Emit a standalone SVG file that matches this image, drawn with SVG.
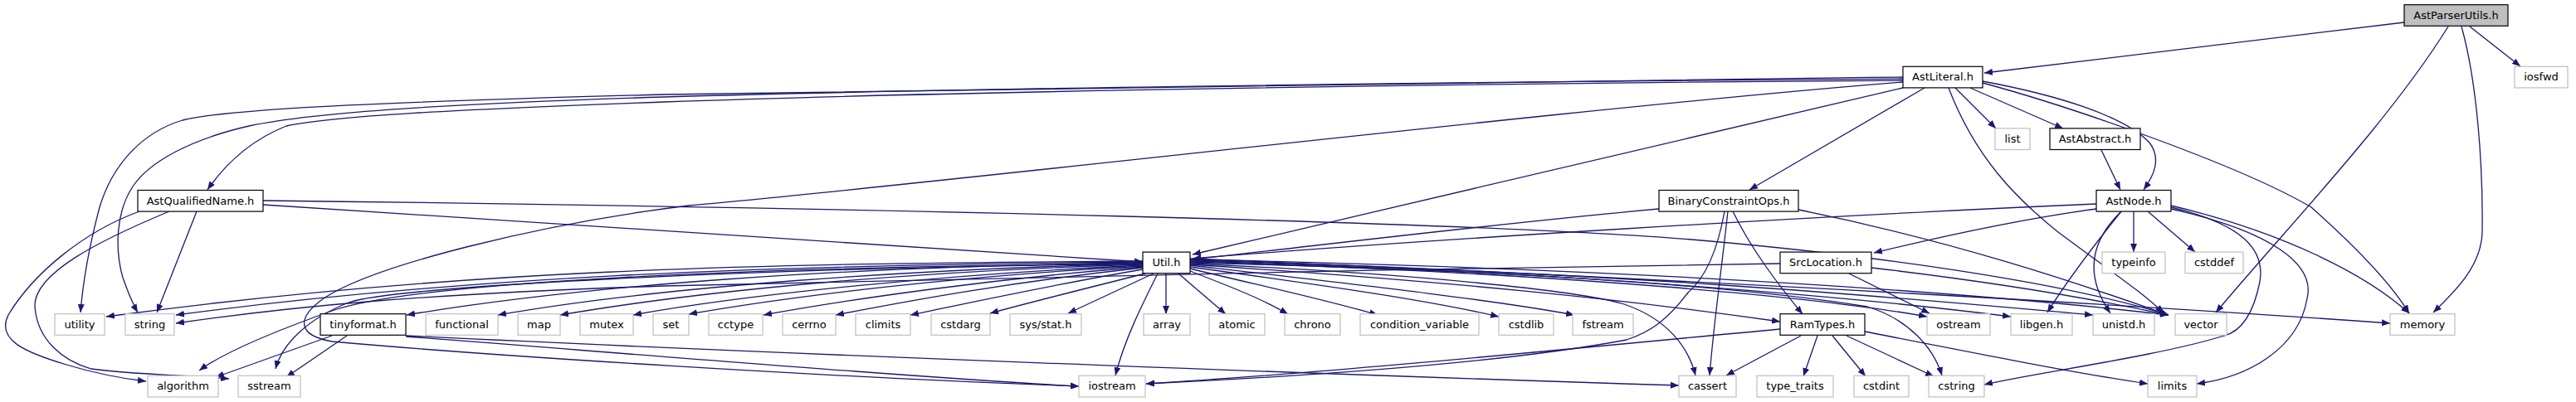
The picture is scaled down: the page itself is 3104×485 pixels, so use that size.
<svg xmlns="http://www.w3.org/2000/svg" width="3104" height="485" viewBox="0 0 3104 485">
<style>
.n rect{fill:#fff;stroke:#000;stroke-width:1.2}
.x rect{fill:#fff;stroke:#bfbfbf;stroke-width:1.2}
.r rect{fill:#bfbfbf;stroke:#000;stroke-width:1.2}
text{font-family:"DejaVu Sans","Liberation Sans",sans-serif;font-size:13px;fill:#000;text-anchor:middle}
#edges path{fill:none;stroke:#191970;stroke-width:1.3;marker-end:url(#a)}
</style>
<defs>
<marker id="a" markerWidth="10" markerHeight="8" refX="10" refY="4" orient="auto" markerUnits="userSpaceOnUse"><path d="M0,0L10,4L0,8z" fill="#191970" stroke="none"/></marker>
</defs>
<rect width="3104" height="485" fill="#fff"/>
<g id="edges">
<!-- AstParserUtils.h -->
<path d="M2897,27 L2391,88"/>
<path d="M2950,32 C2880,145 2760,270 2670,377"/>
<path d="M2966,32 C2985,100 2992,200 2991,280 C2990,320 2960,350 2932,377"/>
<path d="M2976,32 L3037,80"/>
<!-- AstLiteral.h -->
<path d="M2356,106 L2405,155"/>
<path d="M2374,106 L2486,155"/>
<path d="M2389,98 C2480,115 2560,140 2590,172 C2605,192 2595,212 2583,229"/>
<path d="M2389,100 C2500,130 2700,200 2785,250 C2830,290 2880,340 2903,378"/>
<path d="M2348,106 C2380,190 2430,240 2480,280 C2540,325 2585,355 2607,378"/>
<path d="M2319,106 L2108,229"/>
<path d="M2293,106 L1437,307"/>
<path d="M2293,97 C1700,101 1100,112 800,123 C550,132 400,140 345,152 C300,170 270,200 250,229"/>
<path d="M2293,93 C1700,97 1100,106 800,114 C500,122 280,130 220,145 C170,160 135,200 120,250 C108,295 100,340 97,377"/>
<path d="M2293,95 C1700,99 1100,108 800,117 C550,125 380,135 300,152 C230,168 180,195 160,225 C140,255 138,300 148,335 C155,355 162,370 166,377"/>
<path d="M2293,99 C1900,130 1100,225 830,248 C650,270 450,320 390,360 C355,385 360,405 400,412 C600,430 1000,455 1300,466"/>
<!-- AstQualifiedName.h -->
<path d="M317,247 L1377,316"/>
<path d="M317,242 C1000,250 1800,268 2050,290 C2300,312 2500,345 2613,380"/>
<path d="M237,255 L189,377"/>
<path d="M168,255 C100,280 40,330 10,380 C-5,410 30,425 80,440 C120,452 150,457 176,460"/>
<path d="M204,255 C120,290 40,330 42,370 C45,410 75,435 110,445 C160,452 220,452 276,457"/>
<!-- Util.h -->
<path d="M1377,315 C900,318 550,325 128,382"/>
<path d="M1377,316 C900,320 550,335 212,380"/>
<path d="M1377,317 C1000,322 700,345 490,380"/>
<path d="M1377,318 C1100,325 800,345 600,380"/>
<path d="M1377,319 C1100,327 850,350 675,380"/>
<path d="M1377,320 C1150,330 900,355 763,380"/>
<path d="M1377,321 C1150,333 950,358 830,379"/>
<path d="M1377,322 C1200,336 1030,360 920,380"/>
<path d="M1377,323 C1220,340 1100,362 1007,380"/>
<path d="M1377,325 C1260,345 1170,365 1097,380"/>
<path d="M1380,330 C1300,350 1240,365 1193,378"/>
<path d="M1390,330 L1287,378"/>
<path d="M1377,318 C900,322 500,340 400,375 C330,400 270,425 240,447"/>
<path d="M1377,318 C900,324 480,345 420,365 C370,385 340,415 332,445"/>
<path d="M1395,330 C1375,370 1355,410 1344,453"/>
<path d="M1405,330 L1405,379"/>
<path d="M1420,330 L1477,379"/>
<path d="M1434,327 C1480,345 1520,360 1552,379"/>
<path d="M1434,324 C1520,345 1600,362 1660,380"/>
<path d="M1434,322 C1600,345 1720,362 1806,382"/>
<path d="M1434,320 C1650,345 1800,362 1897,380"/>
<path d="M1434,319 C1750,340 1950,360 2145,388"/>
<path d="M1434,318 C1700,330 1900,350 1957,367 C2010,385 2035,420 2043,453"/>
<path d="M1434,317 C1800,325 2100,345 2250,370 C2300,385 2330,420 2340,453"/>
<path d="M1434,316 C1900,330 2200,360 2322,382"/>
<path d="M1434,315 C1900,328 2250,360 2423,382"/>
<path d="M1434,314 C2000,330 2350,365 2522,380"/>
<path d="M1434,313 C2000,325 2400,355 2613,380"/>
<path d="M1434,312 C2100,340 2600,370 2880,390"/>
<!-- BinaryConstraintOps.h -->
<path d="M1999,252 C1800,270 1600,295 1437,313"/>
<path d="M2088,255 C2110,300 2140,340 2172,379"/>
<path d="M2082,255 C2075,320 2065,390 2060,453"/>
<path d="M2078,255 C2070,300 2055,335 2034,353 C2010,385 1990,400 1960,410 C1800,440 1550,455 1381,463"/>
<path d="M2167,253 C2350,290 2500,340 2613,380"/>
<!-- SrcLocation.h -->
<path d="M2145,318 C1700,325 1100,335 800,345 C500,355 350,370 212,390"/>
<path d="M2228,330 L2325,378"/>
<path d="M2255,323 C2400,340 2520,360 2613,380"/>
<!-- AstNode.h -->
<path d="M2526,246 C2200,260 1700,290 1437,312"/>
<path d="M2526,252 C2430,265 2320,290 2258,305"/>
<path d="M2556,255 C2520,300 2490,340 2467,377"/>
<path d="M2556,255 C2520,290 2510,330 2543,378"/>
<path d="M2571,255 L2571,304"/>
<path d="M2588,255 L2645,304"/>
<path d="M2616,250 C2700,270 2730,300 2723,340 C2715,380 2700,400 2680,405 C2600,430 2450,450 2391,464"/>
<path d="M2616,252 C2740,280 2790,320 2780,360 C2770,420 2710,455 2647,463"/>
<path d="M2616,248 C2750,280 2850,330 2903,378"/>
<!-- AstAbstract.h -->
<path d="M2532,181 L2555,229"/>
<!-- RamTypes.h -->
<path d="M2170,405 L2080,453"/>
<path d="M2190,405 L2173,454"/>
<path d="M2208,405 L2248,454"/>
<path d="M2225,405 L2330,454"/>
<path d="M2247,400 C2400,430 2500,450 2588,463"/>
<path d="M2145,397 C1900,420 1600,450 1381,463"/>
<!-- tinyformat.h -->
<path d="M400,405 L260,455"/>
<path d="M418,405 L345,455"/>
<path d="M489,405 C1000,430 1700,455 2023,465"/>
<path d="M489,406 C800,430 1100,455 1300,466"/>
</g>
<g id="n_AstParserUtils" class="r"><rect x="2897" y="5.7" width="125" height="25.6"/><text x="2959.5" y="22.7">AstParserUtils.h</text></g>
<g id="n_AstLiteral" class="n"><rect x="2293" y="80.3" width="96" height="25.6"/><text x="2341" y="97.3">AstLiteral.h</text></g>
<g id="n_iosfwd" class="x"><rect x="3030" y="80.3" width="64" height="25.6"/><text x="3062" y="97.3">iosfwd</text></g>
<g id="n_list" class="x"><rect x="2404" y="154.9" width="42" height="25.6"/><text x="2425" y="171.9">list</text></g>
<g id="n_AstAbstract" class="n"><rect x="2470" y="154.9" width="109" height="25.6"/><text x="2524.5" y="171.9">AstAbstract.h</text></g>
<g id="n_AstQualifiedName" class="n"><rect x="166" y="229.5" width="151" height="25.6"/><text x="241.5" y="246.5">AstQualifiedName.h</text></g>
<g id="n_BinaryConstraintOps" class="n"><rect x="1999" y="229.5" width="168" height="25.6"/><text x="2083" y="246.5">BinaryConstraintOps.h</text></g>
<g id="n_AstNode" class="n"><rect x="2526" y="229.5" width="90" height="25.6"/><text x="2571" y="246.5">AstNode.h</text></g>
<g id="n_Util" class="n"><rect x="1377" y="304.1" width="57" height="25.6"/><text x="1405.5" y="321.1">Util.h</text></g>
<g id="n_SrcLocation" class="n"><rect x="2145" y="304.1" width="110" height="25.6"/><text x="2200" y="321.1">SrcLocation.h</text></g>
<g id="n_typeinfo" class="x"><rect x="2533" y="304.1" width="76" height="25.6"/><text x="2571" y="321.1">typeinfo</text></g>
<g id="n_cstddef" class="x"><rect x="2633" y="304.1" width="70" height="25.6"/><text x="2668" y="321.1">cstddef</text></g>
<g id="n_utility" class="x"><rect x="66" y="378.7" width="60" height="25.6"/><text x="96" y="395.7">utility</text></g>
<g id="n_string" class="x"><rect x="151" y="378.7" width="59" height="25.6"/><text x="180.5" y="395.7">string</text></g>
<g id="n_tinyformat" class="n"><rect x="386" y="378.7" width="103" height="25.6"/><text x="437.5" y="395.7">tinyformat.h</text></g>
<g id="n_functional" class="x"><rect x="513" y="378.7" width="87" height="25.6"/><text x="556.5" y="395.7">functional</text></g>
<g id="n_map" class="x"><rect x="624" y="378.7" width="51" height="25.6"/><text x="649.5" y="395.7">map</text></g>
<g id="n_mutex" class="x"><rect x="699" y="378.7" width="64" height="25.6"/><text x="731" y="395.7">mutex</text></g>
<g id="n_set" class="x"><rect x="787" y="378.7" width="43" height="25.6"/><text x="808.5" y="395.7">set</text></g>
<g id="n_cctype" class="x"><rect x="854" y="378.7" width="65" height="25.6"/><text x="886.5" y="395.7">cctype</text></g>
<g id="n_cerrno" class="x"><rect x="943" y="378.7" width="64" height="25.6"/><text x="975" y="395.7">cerrno</text></g>
<g id="n_climits" class="x"><rect x="1031" y="378.7" width="66" height="25.6"/><text x="1064" y="395.7">climits</text></g>
<g id="n_cstdarg" class="x"><rect x="1122" y="378.7" width="71" height="25.6"/><text x="1157.5" y="395.7">cstdarg</text></g>
<g id="n_sysstat" class="x"><rect x="1217" y="378.7" width="86" height="25.6"/><text x="1260" y="395.7">sys/stat.h</text></g>
<g id="n_array" class="x"><rect x="1378" y="378.7" width="56" height="25.6"/><text x="1406" y="395.7">array</text></g>
<g id="n_atomic" class="x"><rect x="1457" y="378.7" width="67" height="25.6"/><text x="1490.5" y="395.7">atomic</text></g>
<g id="n_chrono" class="x"><rect x="1548" y="378.7" width="67" height="25.6"/><text x="1581.5" y="395.7">chrono</text></g>
<g id="n_condition_variable" class="x"><rect x="1639" y="378.7" width="143" height="25.6"/><text x="1710.5" y="395.7">condition_variable</text></g>
<g id="n_cstdlib" class="x"><rect x="1806" y="378.7" width="66" height="25.6"/><text x="1839" y="395.7">cstdlib</text></g>
<g id="n_fstream" class="x"><rect x="1895" y="378.7" width="73" height="25.6"/><text x="1931.5" y="395.7">fstream</text></g>
<g id="n_RamTypes" class="n"><rect x="2145" y="378.7" width="102" height="25.6"/><text x="2196" y="395.7">RamTypes.h</text></g>
<g id="n_ostream" class="x"><rect x="2322" y="378.7" width="76" height="25.6"/><text x="2360" y="395.7">ostream</text></g>
<g id="n_libgen" class="x"><rect x="2423" y="378.7" width="74" height="25.6"/><text x="2460" y="395.7">libgen.h</text></g>
<g id="n_unistd" class="x"><rect x="2522" y="378.7" width="74" height="25.6"/><text x="2559" y="395.7">unistd.h</text></g>
<g id="n_vector" class="x"><rect x="2621" y="378.7" width="62" height="25.6"/><text x="2652" y="395.7">vector</text></g>
<g id="n_memory" class="x"><rect x="2880" y="378.7" width="78" height="25.6"/><text x="2919" y="395.7">memory</text></g>
<g id="n_algorithm" class="x"><rect x="178" y="453.3" width="85" height="25.6"/><text x="220.5" y="470.3">algorithm</text></g>
<g id="n_sstream" class="x"><rect x="287" y="453.3" width="75" height="25.6"/><text x="324.5" y="470.3">sstream</text></g>
<g id="n_iostream" class="x"><rect x="1300" y="453.3" width="80" height="25.6"/><text x="1340" y="470.3">iostream</text></g>
<g id="n_cassert" class="x"><rect x="2023" y="453.3" width="69" height="25.6"/><text x="2057.5" y="470.3">cassert</text></g>
<g id="n_type_traits" class="x"><rect x="2117" y="453.3" width="92" height="25.6"/><text x="2163" y="470.3">type_traits</text></g>
<g id="n_cstdint" class="x"><rect x="2234" y="453.3" width="66" height="25.6"/><text x="2267" y="470.3">cstdint</text></g>
<g id="n_cstring" class="x"><rect x="2324" y="453.3" width="67" height="25.6"/><text x="2357.5" y="470.3">cstring</text></g>
<g id="n_limits" class="x"><rect x="2588" y="453.3" width="59" height="25.6"/><text x="2617.5" y="470.3">limits</text></g>
</svg>
